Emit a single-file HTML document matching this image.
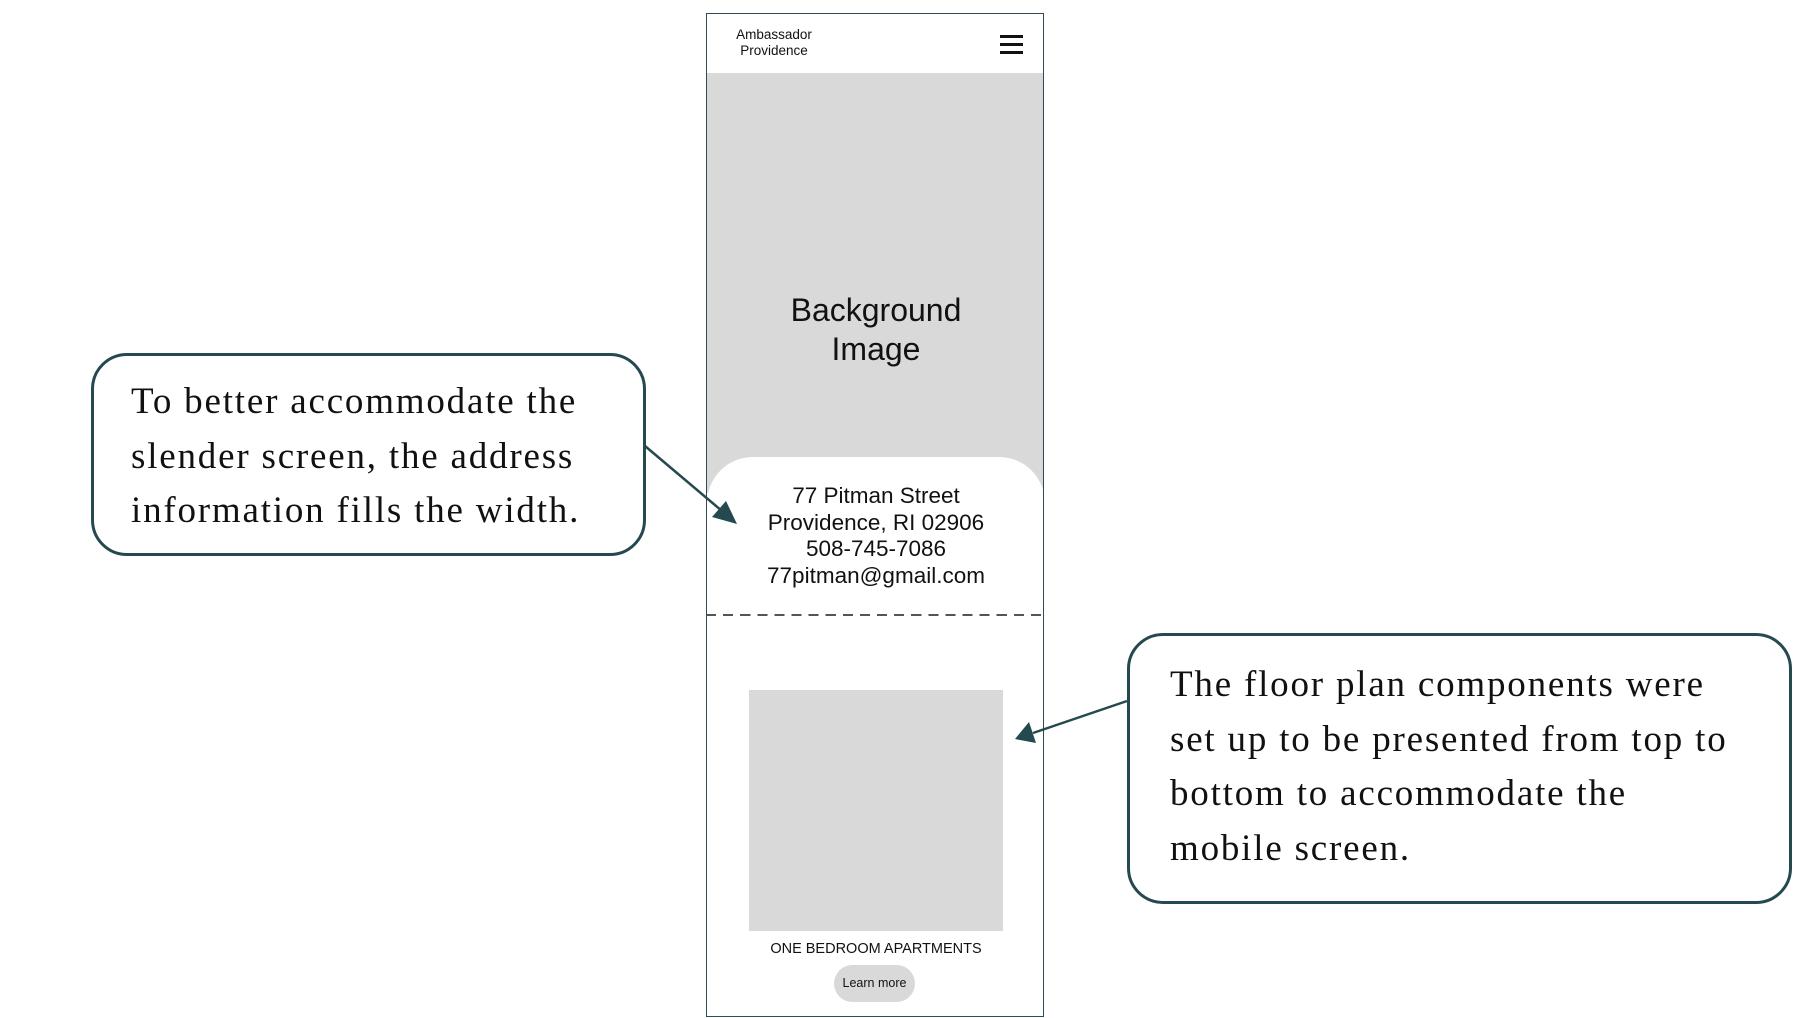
<!DOCTYPE html>
<html><head><meta charset="utf-8"><style>
body{margin:0;width:1807px;height:1018px;background:#fff;position:relative;overflow:hidden;font-family:"Liberation Sans",sans-serif}
.a{position:absolute}
.c{text-align:center}
.call{position:absolute;border:3px solid #244a50;border-radius:36px;box-sizing:border-box;background:#fff}
.st{position:absolute;font-family:"Liberation Serif",serif;font-size:37px;color:#111;white-space:nowrap;letter-spacing:1.8px}
</style></head><body>
<div class="a" style="left:706px;top:13px;width:338px;height:1004px;border:1.5px solid #2d4d52;box-sizing:border-box;overflow:hidden">
 <div class="a" style="left:0;top:59px;width:338px;height:420px;background:#d9d9d9"></div>
 <div class="a" style="left:0;top:443px;width:338px;height:600px;background:#fff;border-radius:46px 46px 0 0"></div>
 <div class="a c" style="left:0;width:338px;top:277px;font-size:32px;line-height:39px;color:#111">Background<br>Image</div>
 <div class="a c" style="left:0;width:338px;top:469px;font-size:22.5px;line-height:26.5px;color:#111">77 Pitman Street<br>Providence, RI 02906<br>508-745-7086<br>77pitman@gmail.com</div>
 <div class="a" style="left:0;top:600px;width:338px;height:0;background:none;border-top:2px dashed #555;border-image:repeating-linear-gradient(90deg,#555 0 10px,transparent 10px 17px) 1"></div>
 <div class="a" style="left:42px;top:676px;width:254px;height:241px;background:#d9d9d9"></div>
 <div class="a c" style="left:0;width:338px;top:927px;font-size:14.5px;color:#111">ONE BEDROOM APARTMENTS</div>
 <div class="a c" style="left:127px;top:951px;width:81px;height:37px;border-radius:19px;background:#d9d9d9;font-size:12.5px;line-height:37px;color:#111">Learn more</div>
 <div class="a c" style="left:12px;width:110px;top:13px;font-size:13.5px;line-height:16px;color:#111">Ambassador<br>Providence</div>
 <div class="a" style="left:293px;top:21px;width:23px;height:3px;background:#111"></div>
 <div class="a" style="left:293px;top:29px;width:23px;height:3px;background:#111"></div>
 <div class="a" style="left:293px;top:37px;width:23px;height:3px;background:#111"></div>
</div>
<div class="call" style="left:91px;top:353px;width:555px;height:203px"></div>
<div class="st" style="left:131px;top:380px">To better accommodate the</div>
<div class="st" style="left:131px;top:435px">slender screen, the address</div>
<div class="st" style="left:131px;top:489px">information fills the width.</div>
<div class="call" style="left:1127px;top:633px;width:665px;height:271px"></div>
<div class="st" style="left:1170px;top:663px">The floor plan components were</div>
<div class="st" style="left:1170px;top:718px">set up to be presented from top to</div>
<div class="st" style="left:1170px;top:772px">bottom to accommodate the</div>
<div class="st" style="left:1170px;top:827px">mobile screen.</div>
<svg class="a" style="left:0;top:0" width="1807" height="1018">
 <line x1="645" y1="446" x2="722" y2="511" stroke="#244a50" stroke-width="2.5"/>
 <polygon points="737,524 712,517 726,501" fill="#244a50"/>
 <line x1="1127" y1="701" x2="1033" y2="733" stroke="#244a50" stroke-width="2.5"/>
 <polygon points="1015,739 1029,722 1036,743" fill="#244a50"/>
</svg>
</body></html>
